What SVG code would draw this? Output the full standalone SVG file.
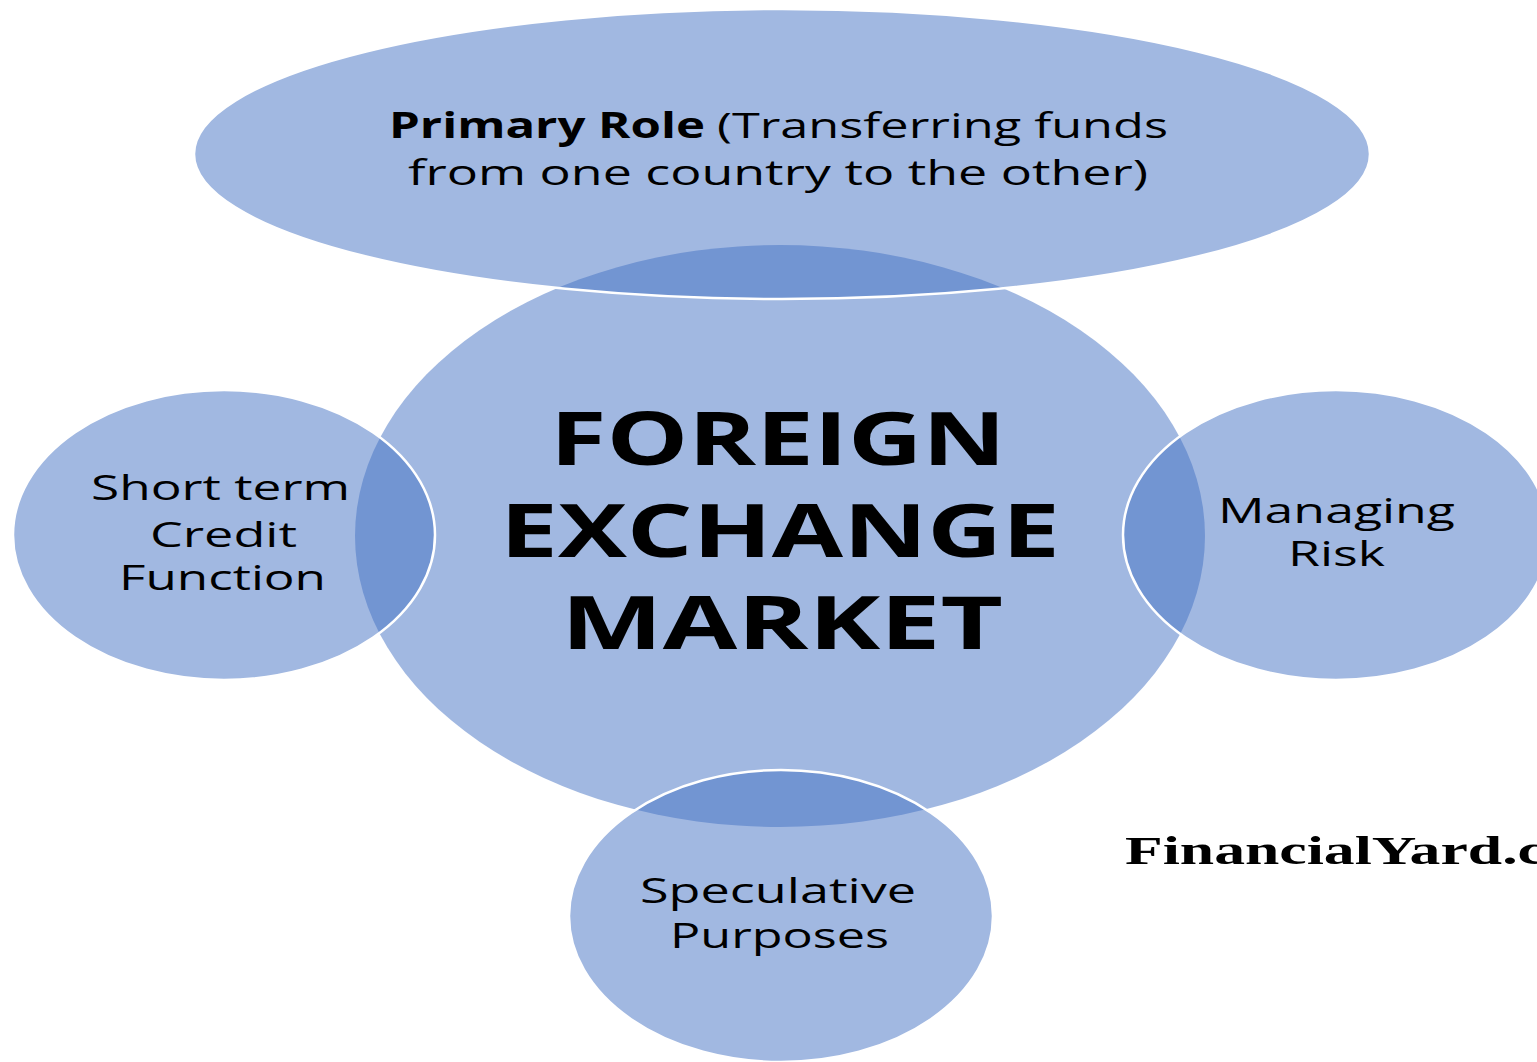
<svg xmlns="http://www.w3.org/2000/svg" width="1537" height="1062" viewBox="0 0 1537 1062">
<style>
.bg{fill:#ffffff}
.hub{fill:#4472C4;fill-opacity:0.5;stroke:none}
.sat{fill:#4472C4;fill-opacity:0.5;stroke:#ffffff;stroke-width:2.5}
.t{font-family:"Open Sans","Noto Sans","Liberation Sans",sans-serif;fill:#000000}
.lbl{font-size:35px}
.big{font-size:73px;font-weight:bold}
.b{font-weight:bold}
.wm{font-family:"Liberation Serif","Times New Roman",serif;font-weight:bold;font-size:41px;fill:#000000}
</style>
<rect class="bg" x="0" y="0" width="1537" height="1062"/>
<g id="hub">
<ellipse class="hub" cx="780" cy="536" rx="425" ry="291"/>
</g>
<g id="node-primary">
<ellipse class="sat" cx="782" cy="154" rx="588" ry="145"/>
<text class="t lbl b" x="389" y="138" textLength="316" lengthAdjust="spacingAndGlyphs">Primary Role</text>
<text class="t lbl" x="717" y="138" textLength="451" lengthAdjust="spacingAndGlyphs">(Transferring funds</text>
<text class="t lbl" x="408" y="185" textLength="740" lengthAdjust="spacingAndGlyphs">from one country to the other)</text>
</g>
<g id="node-credit">
<ellipse class="sat" cx="224" cy="535" rx="211" ry="145"/>
<text class="t lbl" x="91" y="500" textLength="259" lengthAdjust="spacingAndGlyphs">Short term</text>
<text class="t lbl" x="150" y="547" textLength="147" lengthAdjust="spacingAndGlyphs">Credit</text>
<text class="t lbl" x="119" y="590" textLength="207" lengthAdjust="spacingAndGlyphs">Function</text>
</g>
<g id="node-risk">
<ellipse class="sat" cx="1336" cy="535" rx="213" ry="145"/>
<text class="t lbl" x="1218" y="523" textLength="237" lengthAdjust="spacingAndGlyphs">Managing</text>
<text class="t lbl" x="1288" y="566" textLength="97" lengthAdjust="spacingAndGlyphs">Risk</text>
</g>
<g id="node-speculative">
<ellipse class="sat" cx="781" cy="916" rx="212" ry="146"/>
<text class="t lbl" x="640" y="903" textLength="276" lengthAdjust="spacingAndGlyphs">Speculative</text>
<text class="t lbl" x="670" y="948" textLength="219" lengthAdjust="spacingAndGlyphs">Purposes</text>
</g>
<g id="hub-label">
<text class="t big" x="550" y="465" textLength="456" lengthAdjust="spacingAndGlyphs">FOREIGN</text>
<text class="t big" x="500" y="557" textLength="560" lengthAdjust="spacingAndGlyphs">EXCHANGE</text>
<text class="t big" x="561" y="649" textLength="442" lengthAdjust="spacingAndGlyphs">MARKET</text>
</g>
<g id="watermark">
<text class="wm" x="1125" y="864" textLength="420" lengthAdjust="spacingAndGlyphs">FinancialYard.c</text>
</g>
</svg>
